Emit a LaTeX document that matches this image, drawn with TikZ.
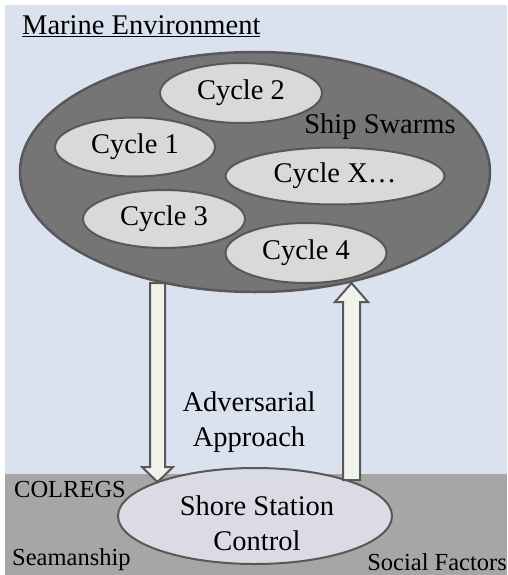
\documentclass[tikz,border=0pt]{standalone}
\usepackage{fontspec}
\setmainfont{Liberation Serif}
\usetikzlibrary{shapes.geometric}
\definecolor{bgblue}{RGB}{218,225,239}
\definecolor{band}{RGB}{166,166,166}
\definecolor{bigfill}{RGB}{117,117,117}
\definecolor{edge}{RGB}{88,88,88}
\definecolor{cyclefill}{RGB}{217,217,217}
\definecolor{shorefill}{RGB}{218,219,228}
\definecolor{arrowfill}{RGB}{242,242,236}
\tikzset{
  big/.style={ellipse, draw=edge, line width=2.5pt, fill=bigfill, inner sep=0pt},
  cyc/.style={ellipse, draw=edge, line width=2pt, fill=cyclefill, inner sep=0pt,
    font=\fontsize{28.5}{34}\selectfont},
  shore/.style={ellipse, draw=edge, line width=2pt, fill=shorefill, inner sep=0pt},
  lbl/.style={font=\fontsize{28.5}{35}\selectfont, inner sep=0pt, align=center},
  small/.style={font=\fontsize{24.5}{28}\selectfont, inner sep=0pt},
  blockarrow/.style={draw=edge, line width=2pt, fill=arrowfill, line join=miter}
}
\begin{document}
\begin{tikzpicture}[x=1pt,y=-1pt]
\useasboundingbox (0,0) rectangle (507,575);
\fill[white] (0,0) rectangle (507,575);
\fill[bgblue] (5,5) rectangle (507,474);
\fill[band] (5,474) rectangle (507,575);

\node[lbl, anchor=base west] (title) at (22,35) {\underline{Marine Environment}};

\node[big, minimum width=470pt, minimum height=240pt] (swarm) at (255,172) {};
\node[lbl] (ships) at (380,127) {Ship Swarms};
\node[cyc, minimum width=162pt, minimum height=60pt] (c2) at (241,93) {Cycle 2};
\node[cyc, minimum width=160pt, minimum height=59pt] (c1) at (135,147) {Cycle 1};
\node[cyc, minimum width=219pt, minimum height=57pt] (cx) at (335,176) {Cycle X\ldots};
\node[cyc, minimum width=162pt, minimum height=58pt] (c3) at (164,219) {Cycle 3};
\node[cyc, minimum width=161pt, minimum height=60pt] (c4) at (306,253) {Cycle 4};

\node[shore, minimum width=274pt, minimum height=96pt] (ssc) at (255,516) {};
\node[lbl] (ssctext) at (257,523) {Shore Station\\Control};

% block arrow down: from swarm to shore station
\coordinate (dtop) at (157.5,283);
\coordinate (dtip) at (157.5,482);
\draw[blockarrow] ([xshift=-7.5pt]dtop) -- ([xshift=7.5pt]dtop)
  -- ([xshift=7.5pt,yshift=15pt]dtip) -- ([xshift=15.5pt,yshift=15pt]dtip)
  -- (dtip) -- ([xshift=-15.5pt,yshift=15pt]dtip)
  -- ([xshift=-7.5pt,yshift=15pt]dtip) -- cycle;
% block arrow up: from shore station to swarm
\coordinate (ubot) at (351.5,480);
\coordinate (utip) at (351.5,283);
\draw[blockarrow] ([xshift=-8.5pt]ubot) -- ([xshift=8.5pt]ubot)
  -- ([xshift=8.5pt,yshift=-19pt]utip) -- ([xshift=16.5pt,yshift=-19pt]utip)
  -- (utip) -- ([xshift=-16.5pt,yshift=-19pt]utip)
  -- ([xshift=-8.5pt,yshift=-19pt]utip) -- cycle;

\node[lbl] (adv) at (249,422) {Adversarial\\Approach};

\node[small, anchor=base west] (colregs) at (14,497) {COLREGS};
\node[small, anchor=base west] (seam) at (12,565) {Seamanship};
\node[small, anchor=base east] (social) at (507,570) {Social Factors};
\end{tikzpicture}
\end{document}
